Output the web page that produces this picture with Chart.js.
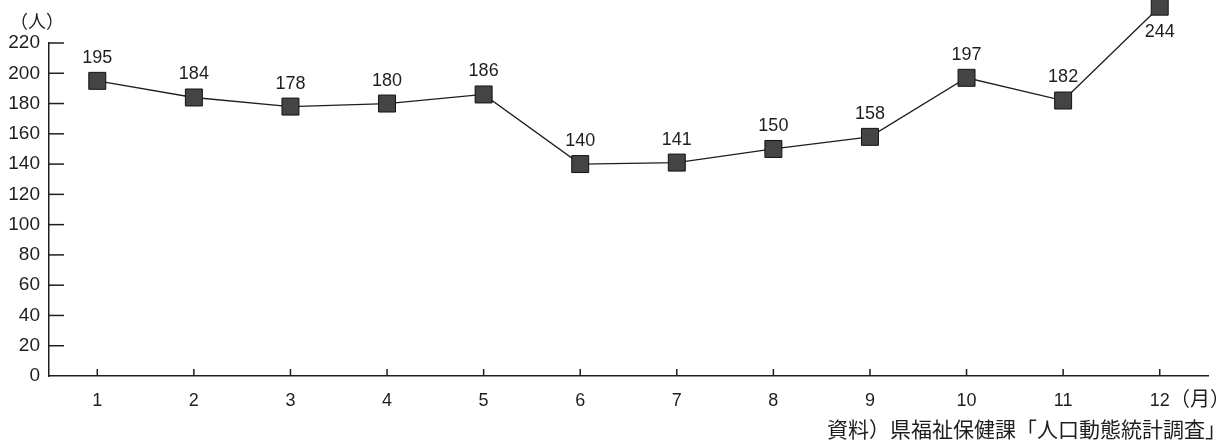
<!DOCTYPE html>
<html>
<head>
<meta charset="utf-8">
<script src="https://cdn.jsdelivr.net/npm/chart.js@4/dist/chart.umd.min.js"></script>
<style>
  html, body { margin: 0; padding: 0; background: #fff; }
  #wrap { width: 1229px; height: 443px; }
</style>
</head>
<body>
<div id="wrap"><canvas id="birthChart"></canvas></div>
<script>
// months (x categories) and monthly counts
const months = ['1', '2', '3', '4', '5', '6', '7', '8', '9', '10', '11', '12'];
const counts = [195, 184, 178, 180, 186, 140, 141, 150, 158, 197, 182, 244];
const yMin = 0;
const yMax = 220;
const yStep = 20;

const yUnit = '（人）';
const xUnit = '（月）';
const source = '資料）県福祉保健課「人口動態統計調査」';

const ink = '#1e1e1e';
const numFont = '"Liberation Sans", Arial, sans-serif';
const cjkFont = '"Noto Sans CJK JP", "Noto Sans CJK SC", sans-serif';

// inward tick marks, point labels and the text notes
const extras = {
  id: 'extras',
  afterDatasetsDraw(chart) {
    const ctx = chart.ctx;
    const area = chart.chartArea;
    const xs = chart.scales.x;
    const ys = chart.scales.y;
    const meta = chart.getDatasetMeta(0);

    // points above the axis top are skipped by chart.js, draw them here
    const whole = { left: 0, top: 0, right: chart.width, bottom: chart.height };
    meta.data.forEach((pt, i) => {
      if (counts[i] > yMax) pt.draw(ctx, whole);
    });

    ctx.save();
    ctx.strokeStyle = ink;
    ctx.lineWidth = 1.5;
    ys.ticks.forEach((t, i) => {
      const y = ys.getPixelForTick(i);
      if (i === 0) return;
      ctx.beginPath();
      ctx.moveTo(area.left, y);
      ctx.lineTo(area.left + 15, y);
      ctx.stroke();
    });
    xs.ticks.forEach((t, i) => {
      const x = xs.getPixelForTick(i);
      ctx.beginPath();
      ctx.moveTo(x, area.bottom);
      ctx.lineTo(x, area.bottom - 7);
      ctx.stroke();
    });

    // value labels
    ctx.fillStyle = ink;
    ctx.font = '18px ' + numFont;
    ctx.textAlign = 'center';
    ctx.textBaseline = 'middle';
    meta.data.forEach((pt, i) => {
      const below = counts[i] > yMax;
      ctx.fillText(String(counts[i]), pt.x, below ? pt.y + 25 : pt.y - 23);
    });

    // unit labels and source
    ctx.font = '18px ' + cjkFont;
    ctx.textAlign = 'left';
    ctx.fillText(yUnit, 10, 21);
    ctx.font = '20px ' + cjkFont;
    ctx.fillText(xUnit, 1170, 398);
    ctx.font = '21px ' + cjkFont;
    ctx.textAlign = 'right';
    ctx.fillText(source, 1226, 429);
    ctx.restore();
  }
};

const data = {
  labels: months,
  datasets: [{
    label: '出生数',
    data: counts,
    borderColor: ink,
    borderWidth: 1.3,
    backgroundColor: '#444',
    pointStyle: 'rect',
    pointRadius: 12,
    pointHoverRadius: 12,
    pointBackgroundColor: '#444',
    pointBorderColor: '#111',
    pointBorderWidth: 1,
    tension: 0,
    clip: false
  }]
};

const config = {
  type: 'line',
  data,
  options: {
    responsive: true,
    maintainAspectRatio: false,
    animation: false,
    layout: { padding: { top: 43, right: 21, left: 0, bottom: 0 } },
    plugins: {
      legend: { display: false },
      tooltip: { enabled: false }
    },
    scales: {
      x: {
        offset: true,
        afterFit: (s) => { s.height = 67; },
        grid: { drawOnChartArea: false, drawTicks: false },
        border: { color: ink, width: 1.5 },
        ticks: { padding: 14, color: ink, font: { family: numFont, size: 18 } }
      },
      y: {
        min: yMin,
        max: yMax,
        afterFit: (s) => { s.width = 49; },
        grid: { drawOnChartArea: false, drawTicks: false },
        border: { color: ink, width: 1.5 },
        ticks: { stepSize: yStep, padding: 9, color: ink, font: { family: numFont, size: 19 } }
      }
    }
  },
  plugins: [extras]
};

var birthChart = new Chart(document.getElementById('birthChart'), config);
</script>
</body>
</html>
